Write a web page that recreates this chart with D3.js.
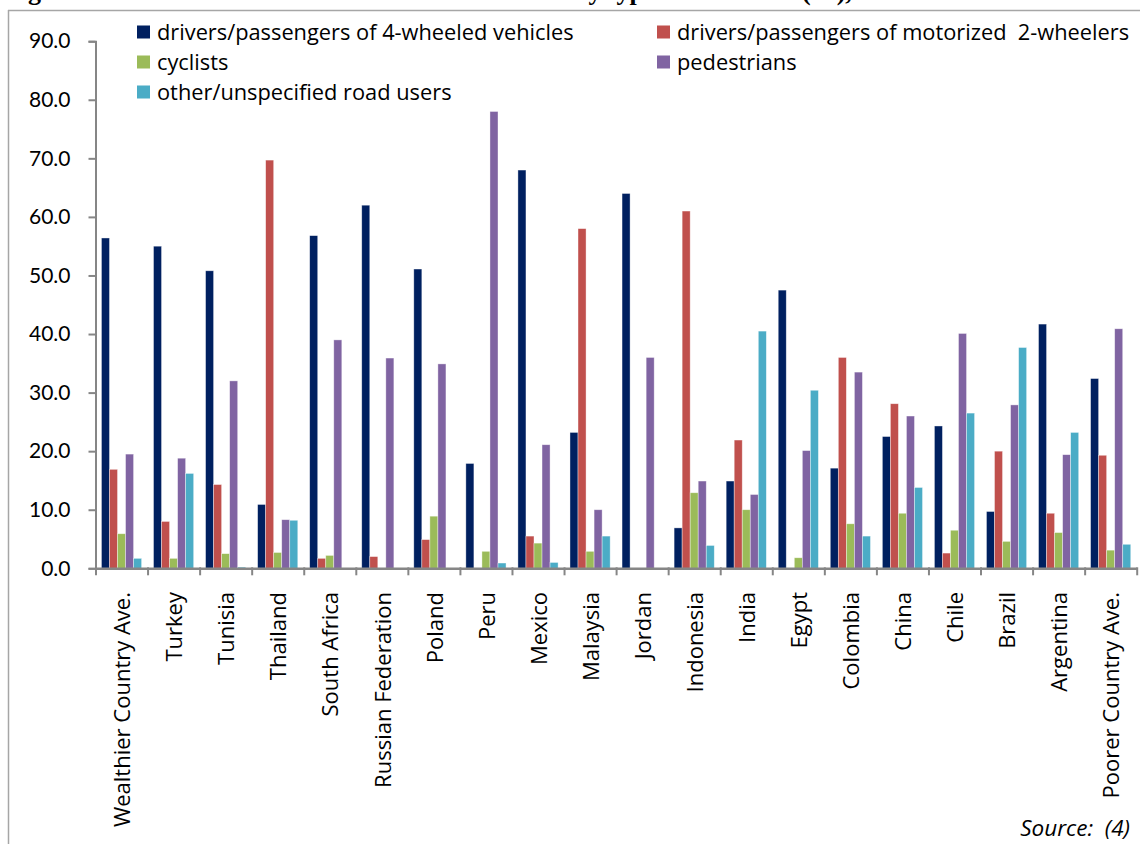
<!DOCTYPE html>
<html>
<head>
<meta charset="utf-8">
<script src="https://cdn.jsdelivr.net/npm/d3@7"></script>
<style>
  html, body { margin: 0; padding: 0; background: #fff; }
  svg { display: block; }
</style>
</head>
<body>
<svg id="chart" width="1140" height="844"></svg>
<script>
const categories = ["Wealthier Country Ave.","Turkey","Tunisia","Thailand","South Africa","Russian Federation","Poland","Peru","Mexico","Malaysia","Jordan","Indonesia","India","Egypt","Colombia","China","Chile","Brazil","Argentina","Poorer Country Ave."];
const seriesNames = ["drivers/passengers of 4-wheeled vehicles","drivers/passengers of motorized  2-wheelers","cyclists","pedestrians","other/unspecified road users"];
const fourWheeled = [56.4,55.0,50.8,10.9,56.8,62.0,51.1,17.9,68.0,23.2,64.0,6.9,14.9,47.5,17.1,22.5,24.3,9.7,41.7,32.4];
const twoWheelers = [16.9,8.0,14.3,69.7,1.7,2.0,4.9,0,5.5,58.0,0,61.0,21.9,0,36.0,28.1,2.6,20.0,9.4,19.3];
const cyclists    = [5.9,1.7,2.5,2.7,2.2,0,8.9,2.9,4.3,2.9,0,12.9,10.0,1.8,7.6,9.4,6.5,4.6,6.1,3.1];
const pedestrians = [19.5,18.8,32.0,8.3,39.0,35.9,34.9,78.0,21.1,10.0,36.0,14.9,12.6,20.1,33.5,26.0,40.1,27.9,19.4,40.9];
const otherUsers  = [1.7,16.2,0.2,8.2,0,0,0,0.9,1.0,5.5,0,3.9,40.5,30.4,5.5,13.8,26.5,37.7,23.2,4.1];
const yTicks = [0,10,20,30,40,50,60,70,80,90];
const colors = ["#002060","#C0504D","#9BBB59","#8064A2","#4BACC6"];
const titleText = "Figure 2: Distribution of road traffic deaths";
const titleText2 = "by type of road user (%),";
const sourceText = "Source:  (4)";

const seriesValues = [fourWheeled, twoWheelers, cyclists, pedestrians, otherUsers];

const svg = d3.select("#chart");
const FONT = "'Open Sans', Lato, sans-serif";
const NUMFONT = "Lato, 'Open Sans', sans-serif";
const axisColor = "#868686";

// plot geometry
const plotLeft = 95.5, plotRight = 1136.7, plotTop = 41.2, plotBottom = 568.3;

const x = d3.scaleBand().domain(categories).range([plotLeft, plotRight]).paddingInner(0).paddingOuter(0);
const xInner = d3.scaleBand().domain(d3.range(seriesNames.length)).range([0, x.bandwidth()]).paddingOuter(0.74).paddingInner(0);
const y = d3.scaleLinear().domain([0, 90]).range([plotBottom, plotTop]);
const xBound = d3.scaleLinear().domain([0, categories.length]).range([plotLeft, plotRight]);

// frame
svg.append("line").attr("x1", 8.5).attr("x2", 8.5).attr("y1", 10).attr("y2", 844)
  .attr("stroke", "#a6a6a6").attr("stroke-width", 1.5);
svg.append("line").attr("x1", 8).attr("x2", 1140).attr("y1", 10.5).attr("y2", 10.5)
  .attr("stroke", "#a6a6a6").attr("stroke-width", 1.5);

// title (clipped by the top edge, as in the reference)
const tt = svg.append("text").attr("y", -0.5)
  .attr("font-family", "'Liberation Serif', 'DejaVu Serif', serif")
  .attr("font-weight", "bold").attr("font-size", 26).attr("fill", "#000");
tt.append("tspan").attr("x", 5).text(titleText);
tt.append("tspan").attr("x", 574).text(titleText2);

// bars
const groups = svg.append("g").selectAll("g").data(categories).join("g")
  .attr("transform", d => `translate(${x(d)},0)`);
groups.selectAll("rect")
  .data((d, i) => seriesValues.map((vals, s) => ({ s, v: vals[i] })).filter(e => e.v > 0))
  .join("rect")
  .attr("x", d => xInner(d.s))
  .attr("width", xInner.bandwidth())
  .attr("y", d => y(d.v))
  .attr("height", d => y(0) - y(d.v))
  .attr("fill", d => colors[d.s])
  .attr("stroke", "#ffffff").attr("stroke-opacity", 0.55).attr("stroke-width", 0.7);

// y axis
const yAxis = svg.append("g").attr("transform", `translate(${plotLeft},0)`)
  .call(d3.axisLeft(y).tickValues(yTicks).tickFormat(d3.format(".1f")).tickSize(7).tickPadding(18));
yAxis.select(".domain").attr("stroke", axisColor).attr("stroke-width", 2);
yAxis.selectAll(".tick line").attr("stroke", axisColor).attr("stroke-width", 2);
yAxis.selectAll(".tick text").attr("font-family", NUMFONT).attr("font-size", 21).attr("fill", "#000");

// x axis (ticks at band boundaries)
const xAxis = svg.append("g").attr("transform", `translate(0,${plotBottom})`)
  .call(d3.axisBottom(xBound).tickValues(d3.range(categories.length + 1)).tickFormat("").tickSize(7).tickSizeOuter(0));
xAxis.select(".domain").attr("stroke", axisColor).attr("stroke-width", 2.5);
xAxis.selectAll(".tick line").attr("stroke", axisColor).attr("stroke-width", 2).attr("y1", -1);

// x labels
svg.append("g").selectAll("text").data(categories).join("text")
  .attr("transform", d => `translate(${x(d) + x.bandwidth() / 2 + 1},592) rotate(-90)`)
  .attr("text-anchor", "end")
  .attr("dy", "0.35em")
  .attr("font-family", FONT).attr("font-size", 22).attr("fill", "#000")
  .text(d => d);

// legend
const legendPos = [[137, 32], [657, 32], [137, 62], [657, 62], [137, 92]];
const lg = svg.append("g").selectAll("g").data(seriesNames).join("g")
  .attr("transform", (d, i) => `translate(${legendPos[i][0]},${legendPos[i][1]})`);
lg.append("rect").attr("x", 0).attr("y", -6.5).attr("width", 13).attr("height", 13)
  .attr("fill", (d, i) => colors[i]);
lg.append("text").attr("x", 20).attr("dy", "0.35em")
  .attr("font-family", FONT).attr("font-size", 21.8).attr("fill", "#000")
  .style("white-space", "pre")
  .text(d => d);

// source
svg.append("text").attr("x", 1130).attr("y", 836).attr("text-anchor", "end")
  .attr("font-family", FONT).attr("font-style", "italic").attr("font-size", 22.5)
  .attr("fill", "#000").style("white-space", "pre")
  .text(sourceText);
</script>
</body>
</html>
